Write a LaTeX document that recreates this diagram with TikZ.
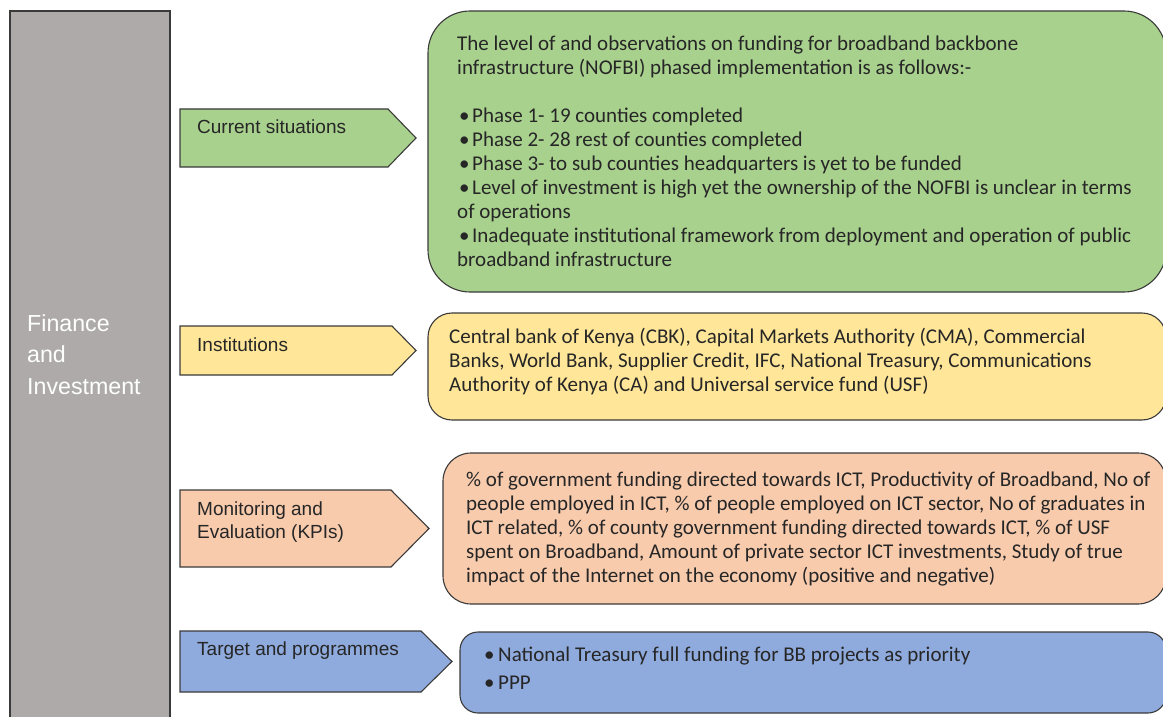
\documentclass[tikz,border=0pt]{standalone}
\usepackage{fontspec}
\setmainfont{Carlito}
\newfontfamily\labelfont{Liberation Sans}
\definecolor{grayfill}{HTML}{AEAAAA}
\definecolor{greenfill}{HTML}{A9D18E}
\definecolor{yellowfill}{HTML}{FFE699}
\definecolor{salmonfill}{HTML}{F8CBAD}
\definecolor{bluefill}{HTML}{8FAADC}
\definecolor{edge}{HTML}{3A3A3A}
\newcommand{\gbul}{\hspace*{2pt}\makebox[13pt][l]{•}}
\newcommand{\bbul}{\makebox[14pt][l]{•}}
\tikzset{
  shapeline/.style={draw=edge, line width=1.1pt},
  bodytext/.style={anchor=north west, inner sep=0pt, align=left, font=\fontsize{21}{24}\selectfont, text=black!85},
  labeltext/.style={anchor=north west, inner sep=0pt, align=left, font=\labelfont\fontsize{19}{23}\selectfont, text=black!85},
}
\begin{document}
\begin{tikzpicture}[x=1pt,y=-1pt]
\useasboundingbox (0,0) rectangle (1163,717);
% left column
\draw[shapeline, fill=grayfill] (10,11) rectangle (170,725);
\node[anchor=north west, inner sep=0pt, align=left, font=\labelfont\fontsize{23.2}{31.5}\selectfont, text=white] (fin) at (27,309) {\strut Finance\\and\\Investment};

% arrows
\coordinate (a1) at (180,109);
\draw[shapeline, fill=greenfill] (a1) -- (388,109) -- (416,138) -- (388,167) -- (180,167) -- cycle;
\coordinate (a2) at (180,326);
\draw[shapeline, fill=yellowfill] (a2) -- (392,326) -- (416,350.5) -- (392,375) -- (180,375) -- cycle;
\coordinate (a3) at (180,490);
\draw[shapeline, fill=salmonfill] (a3) -- (391,490) -- (429,528.5) -- (391,567) -- (180,567) -- cycle;
\coordinate (a4) at (180,631);
\draw[shapeline, fill=bluefill] (a4) -- (421,631) -- (452,661.5) -- (421,692) -- (180,692) -- cycle;

\node[labeltext] (l1) at (197,117) {\strut Current situations};
\node[labeltext] (l2) at (197,335) {\strut Institutions};
\node[labeltext] (l3) at (197,499) {\strut Monitoring and\\Evaluation (KPIs)};
\node[labeltext] (l4) at (197,639) {\strut Target and programmes};

% boxes
\draw[shapeline, fill=greenfill, rounded corners=42pt] (428,11) rectangle (1166,292);
\draw[shapeline, fill=yellowfill, rounded corners=24pt] (428,313) rectangle (1166,420);
\draw[shapeline, fill=salmonfill, rounded corners=28pt] (443,453) rectangle (1166,604);
\draw[shapeline, fill=bluefill, rounded corners=18pt] (460,632) rectangle (1166,713);

\node[bodytext] (t1) at (457,33.2) {\strut The level of and observations on funding for broadband backbone\\
infrastructure (NOFBI) phased implementation is as follows:-\\[24pt]
\gbul Phase 1- 19 counties completed\\
\gbul Phase 2- 28 rest of counties completed\\
\gbul Phase 3- to sub counties headquarters is yet to be funded\\
\gbul Level of investment is high yet the ownership of the NOFBI is unclear in terms\\
of operations\\
\gbul Inadequate institutional framework from deployment and operation of public\\
broadband infrastructure};

\node[bodytext] (t2) at (449,326.2) {\strut Central bank of Kenya (CBK), Capital Markets Authority (CMA), Commercial\\
Banks, World Bank, Supplier Credit, IFC, National Treasury, Communications\\
Authority of Kenya (CA) and Universal service fund (USF)};

\node[bodytext, font=\fontsize{21}{24.2}\selectfont] (t3) at (466,469) {\strut\% of government funding directed towards ICT, Productivity of Broadband, No of\\
people employed in ICT, \% of people employed on ICT sector, No of graduates in\\
ICT related, \% of county government funding directed towards ICT, \% of USF\\
spent on Broadband, Amount of private sector ICT investments, Study of true\\
impact of the Internet on the economy (positive and negative)};

\node[bodytext, font=\fontsize{21}{28}\selectfont] (t4) at (484,641.4) {\strut\bbul National Treasury full funding for BB projects as priority\\
\bbul PPP};
\end{tikzpicture}
\end{document}
